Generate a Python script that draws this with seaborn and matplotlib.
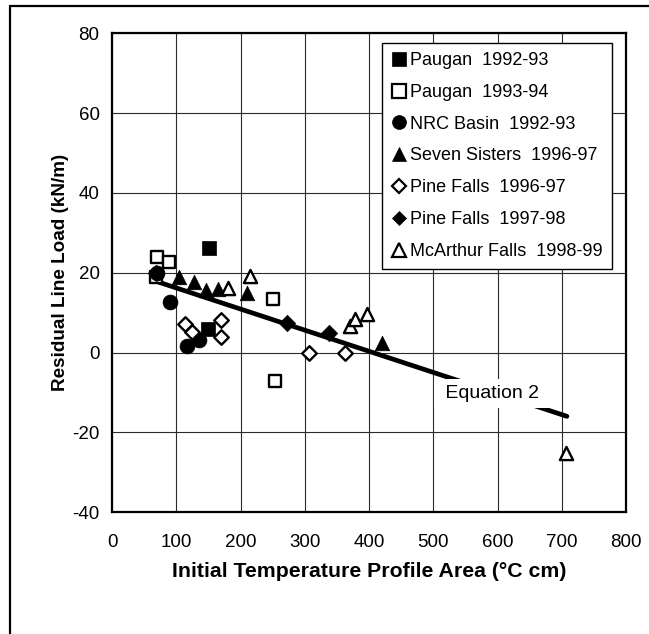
"""
Residual line load vs. initial temperature profile area.
Scatter per site/season plus the Equation 2 line.
"""

import matplotlib

matplotlib.use("Agg")
import matplotlib.pyplot as plt  # noqa: E402
import seaborn as sns  # noqa: E402
from matplotlib.lines import Line2D  # noqa: E402

# --- data ------------------------------------------------------------------
paugan92_x = [151, 150]
paugan92_y = [26.3, 6.0]

paugan93_x = [70, 88, 68, 251, 254]
paugan93_y = [24.0, 22.8, 19.0, 13.5, -7.2]

nrc_x = [70, 91, 117, 135]
nrc_y = [20.0, 12.7, 1.6, 3.1]

seven_x = [104, 127, 146, 165, 210, 420]
seven_y = [19.0, 17.7, 15.6, 16.0, 14.8, 2.5]

pine96_x = [113, 124, 170, 170, 306, 362]
pine96_y = [7.1, 5.2, 8.1, 3.9, 0.0, 0.0]

pine97_x = [69, 272, 338]
pine97_y = [20.0, 7.5, 5.0]

mcarthur_x = [180, 214, 370, 378, 397, 706]
mcarthur_y = [16.2, 19.2, 6.6, 8.3, 9.6, -25.3]

eq_x = [64, 708]
eq_y = [18.1, -16.0]

x_ticks = [0, 100, 200, 300, 400, 500, 600, 700, 800]
y_ticks = [-40, -20, 0, 20, 40, 60, 80]

# (label, x, y, marker, filled, size)
series = [
    ("Paugan  1992-93", paugan92_x, paugan92_y, "s", True, 115),
    ("Paugan  1993-94", paugan93_x, paugan93_y, "s", False, 85),
    ("NRC Basin  1992-93", nrc_x, nrc_y, "o", True, 115),
    ("Seven Sisters  1996-97", seven_x, seven_y, "^", True, 110),
    ("Pine Falls  1996-97", pine96_x, pine96_y, "D", False, 55),
    ("Pine Falls  1997-98", pine97_x, pine97_y, "D", True, 70),
    ("McArthur Falls  1998-99", mcarthur_x, mcarthur_y, "^", False, 90),
]

sns.set_style("white")
plt.rcParams["font.family"] = ["Liberation Sans", "DejaVu Sans"]
plt.rcParams["axes.unicode_minus"] = False
plt.rcParams["text.color"] = "black"
plt.rcParams["axes.labelcolor"] = "black"
plt.rcParams["xtick.color"] = "black"
plt.rcParams["ytick.color"] = "black"

fig = plt.figure(figsize=(6.49, 6.34), dpi=100)
ax = fig.add_axes([0.1726, 0.1924, 0.7920, 0.7548])

# Equation 2 line
sns.lineplot(x=eq_x, y=eq_y, ax=ax, color="black", linewidth=3.4,
             zorder=2.5, legend=False)

handles = []
for label, xs, ys, marker, filled, size in series:
    face = "black" if filled else "white"
    sns.scatterplot(x=xs, y=ys, ax=ax, marker=marker, s=size,
                    color=face, edgecolor="black",
                    linewidth=0.5 if filled else 1.7, zorder=3, legend=False)
    handles.append(Line2D([], [], linestyle="", marker=marker,
                          markersize={"s": 9.5, "o": 10, "^": 9.5, "D": 7}[marker],
                          markerfacecolor=face, markeredgecolor="black",
                          markeredgewidth=0.5 if filled else 1.6,
                          label=label))

ax.text(591, -10.2, " Equation 2 ", fontsize=14, ha="center", va="center",
        zorder=4,
        bbox=dict(boxstyle="square,pad=0.3", facecolor="white",
                  edgecolor="none"))

ax.set_xlim(0, 800)
ax.set_ylim(-40, 80)
ax.set_xticks(x_ticks)
ax.set_yticks(y_ticks)
ax.tick_params(axis="both", length=0, labelsize=13.5)
ax.tick_params(axis="x", pad=16)
ax.tick_params(axis="y", pad=9)
ax.grid(True, color="#2b2b2b", linewidth=0.8)
ax.set_axisbelow(True)
for sp in ax.spines.values():
    sp.set_visible(True)
    sp.set_color("black")
    sp.set_linewidth(1.6)

ax.set_xlabel("Initial Temperature Profile Area (°C cm)", fontsize=15.3,
              fontweight="bold", labelpad=8)
ax.set_ylabel("Residual Line Load (kN/m)", fontsize=13.6,
              fontweight="bold", labelpad=2)

leg = ax.legend(handles=handles, loc="upper right",
                bbox_to_anchor=(0.9727, 0.980), borderaxespad=0,
                fontsize=13, frameon=True, fancybox=False, framealpha=1,
                edgecolor="black", handlelength=0.8, handletextpad=0.25,
                labelspacing=0.82, borderpad=0.5)
leg.get_frame().set_linewidth(1.0)
leg.set_zorder(5)

# outer frame of the original figure (left and top edges)
fig.add_artist(Line2D([10 / 649, 10 / 649], [0, 1 - 6 / 634],
                      transform=fig.transFigure, color="black", linewidth=1.6))
fig.add_artist(Line2D([10 / 649, 1], [1 - 6 / 634, 1 - 6 / 634],
                      transform=fig.transFigure, color="black", linewidth=1.6))

fig.savefig("out.png", dpi=100)
plt.close(fig)
